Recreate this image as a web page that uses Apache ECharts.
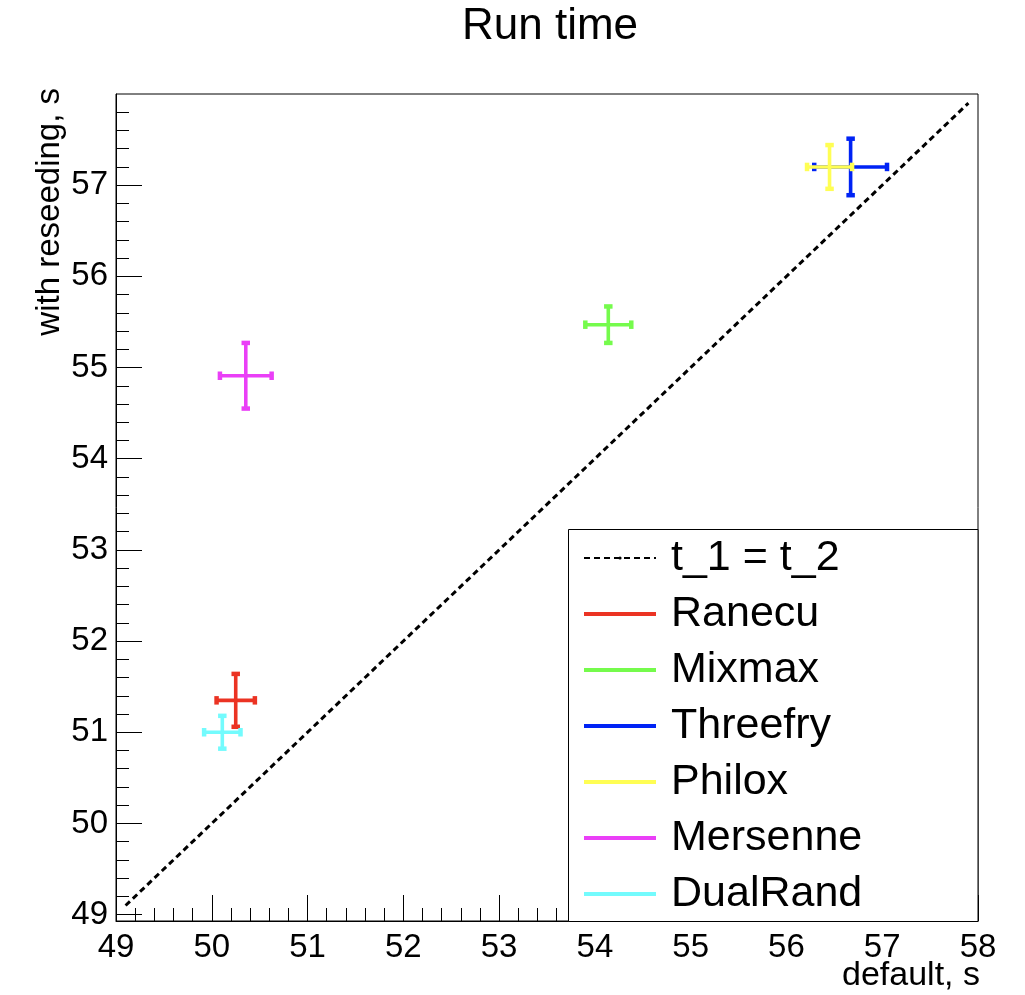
<!DOCTYPE html>
<html>
<head>
<meta charset="utf-8">
<script src="https://cdn.jsdelivr.net/npm/echarts@6/dist/echarts.min.js"></script>
<style>html,body{margin:0;padding:0;background:#fff}#c{width:1025px;height:995px}</style>
</head>
<body>
<div id="c"></div>
<script>
const names = ['Ranecu', 'Mixmax', 'Threefry', 'Philox', 'Mersenne', 'DualRand'];
const xVals = [50.25, 54.14, 56.67, 56.45, 50.355, 50.11];
const xErrs = [0.20, 0.24, 0.38, 0.235, 0.27, 0.19];
const yVals = [51.35, 55.47, 57.20, 57.20, 54.91, 51.00];
const yErrs = [0.29, 0.20, 0.31, 0.24, 0.36, 0.18];
const colors = ['#eb3323', '#75fb4c', '#0023f5', '#fffe54', '#ea3ff7', '#73fbfd'];
const diagName = 't_1 = t_2';
const diagX = [49.1, 57.9];
const diagY = [49.1, 57.9];
const xTicks = [49, 50, 51, 52, 53, 54, 55, 56, 57, 58];
const yTicks = [49, 50, 51, 52, 53, 54, 55, 56, 57];
const yMinorTicks = [];
for (let v = 49; v < 58; v++) { for (let k = 1; k < 5; k++) { const m = +(v + k * 0.2).toFixed(1); if (m < 58) yMinorTicks.push(m); } }

const FONT = 'Liberation Sans';
const chart = echarts.init(document.getElementById('c'), null, {renderer: 'canvas'});

function renderItem(params, api) {
  const x = api.value(0), y = api.value(1), ex = api.value(2), ey = api.value(3);
  const l = api.coord([x - ex, y]), r = api.coord([x + ex, y]);
  const b = api.coord([x, y - ey]), t = api.coord([x, y + ey]);
  const c = api.visual('color');
  const lw = 3.6, cw = 4.5, chh = 8.5;
  return {
    type: 'group',
    children: [
      {type: 'line', shape: {x1: l[0], y1: l[1], x2: r[0], y2: r[1]}, style: {stroke: c, lineWidth: lw}},
      {type: 'line', shape: {x1: b[0], y1: b[1], x2: t[0], y2: t[1]}, style: {stroke: c, lineWidth: lw}},
      {type: 'rect', shape: {x: l[0] - cw / 2, y: l[1] - chh / 2, width: cw, height: chh}, style: {fill: c}},
      {type: 'rect', shape: {x: r[0] - cw / 2, y: r[1] - chh / 2, width: cw, height: chh}, style: {fill: c}},
      {type: 'rect', shape: {x: b[0] - chh / 2, y: b[1] - cw / 2, width: chh, height: cw}, style: {fill: c}},
      {type: 'rect', shape: {x: t[0] - chh / 2, y: t[1] - cw / 2, width: chh, height: cw}, style: {fill: c}}
    ]
  };
}

const series = [{
  name: diagName,
  type: 'line',
  data: diagX.map((x, i) => [x, diagY[i]]),
  symbol: 'none',
  silent: true,
  lineStyle: {color: '#000', width: 3, type: [6, 4]},
  itemStyle: {color: '#000'},
  z: 2
}];
names.forEach((n, i) => {
  series.push({
    name: n,
    type: 'custom',
    renderItem: renderItem,
    data: [[xVals[i], yVals[i], xErrs[i], yErrs[i]]],
    itemStyle: {color: colors[i]},
    encode: {x: 0, y: 1},
    z: 3
  });
});

const option = {
  backgroundColor: '#fff',
  animation: false,
  grid: {left: 116, right: 47, top: 94, bottom: 74, show: true, borderColor: '#000', borderWidth: 1, backgroundColor: 'transparent'},
  xAxis: {
    type: 'value', min: 49, max: 58, interval: 1,
    axisLine: {show: true, lineStyle: {color: '#000', width: 1}},
    axisTick: {show: true, inside: true, length: 26, lineStyle: {color: '#000', width: 1}},
    minorTick: {show: true, splitNumber: 5, length: 13, lineStyle: {color: '#000', width: 1}},
    axisLabel: {show: true, margin: 10, fontFamily: FONT, fontSize: 33, color: '#000', formatter: v => String(v)},
    splitLine: {show: false}
  },
  yAxis: [{
    type: 'value', min: 48.93, max: 58.0,
    axisLine: {show: true, lineStyle: {color: '#000', width: 1}},
    axisTick: {show: true, inside: true, length: 26, customValues: yTicks, lineStyle: {color: '#000', width: 1}},
    axisLabel: {show: true, margin: 8, customValues: yTicks, fontFamily: FONT, fontSize: 33, color: '#000', formatter: v => String(v)},
    splitLine: {show: false}
  }, {
    type: 'value', min: 48.93, max: 58.0, position: 'left',
    axisLine: {show: false},
    axisTick: {show: true, inside: true, length: 13, customValues: yMinorTicks, lineStyle: {color: '#000', width: 1}},
    axisLabel: {show: false},
    splitLine: {show: false}
  }],
  legend: {
    orient: 'vertical',
    left: 583, top: 530,
    padding: 0,
    itemGap: 0,
    itemWidth: 72,
    itemHeight: 4,
    selectedMode: false,
    z: 60,
    textStyle: {fontFamily: FONT, fontSize: 43, color: '#000', lineHeight: 56, padding: [0, 0, 0, 10]},
    data: [{name: diagName}].concat(names.map(n => ({name: n, icon: 'rect'})))
  },
  graphic: [
    {type: 'rect', z: 50, shape: {x: 568.5, y: 529.5, width: 409.5, height: 392}, style: {fill: '#fff', stroke: '#000', lineWidth: 1}},
    {type: 'text', z: 50, x: 550, y: 27, style: {text: 'Run time', font: '44px "Liberation Sans"', fill: '#000', textAlign: 'center', textVerticalAlign: 'middle'}},
    {type: 'text', z: 50, x: 980, y: 976, style: {text: 'default, s', font: '34px "Liberation Sans"', fill: '#000', textAlign: 'right', textVerticalAlign: 'middle'}},
    {type: 'text', z: 50, x: 50, y: 88, rotation: Math.PI / 2, style: {text: 'with reseeding, s', font: '33px "Liberation Sans"', fill: '#000', textAlign: 'right', textVerticalAlign: 'middle'}}
  ],
  series: series
};
chart.setOption(option);
</script>
</body>
</html>
